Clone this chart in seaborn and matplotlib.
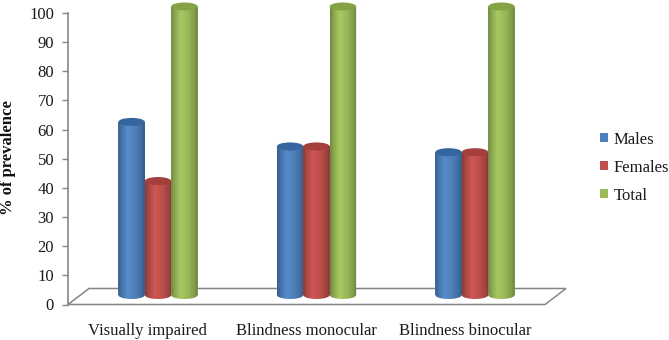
import numpy as np
import pandas as pd
import matplotlib
matplotlib.use("Agg")
import matplotlib.pyplot as plt
from matplotlib.colors import LinearSegmentedColormap, to_rgb
from matplotlib.patches import Ellipse, Polygon, PathPatch
from matplotlib.path import Path
import seaborn as sns

categories = ["Visually impaired", "Blindness monocular", "Blindness binocular"]
males = [60, 51.5, 49.5]
females = [39.5, 51.5, 49.5]
total = [100, 100, 100]
series_names = ["Males", "Females", "Total"]
colors = ["#4F81BD", "#C0504D", "#9BBB59"]
top_colors = ["#35659F", "#A33F3C", "#83A344"]
y_ticks = list(range(0, 101, 10))

W, H = 669, 340
sns.set_theme(style="white")
plt.rcParams["font.family"] = ["Liberation Serif", "DejaVu Serif"]
fig = plt.figure(figsize=(W / 100, H / 100), dpi=100, facecolor="white")

def box(x0, y_top, x1, y_bottom):
    return [x0 / W, 1 - y_bottom / H, (x1 - x0) / W, (y_bottom - y_top) / H]

# frame axes: value axis, floor, category labels
frame = fig.add_axes(box(68, 13, 545, 304.5))
frame.set_xlim(-0.5, 2.5)
frame.set_ylim(0, 100)
frame.set_xticks(range(3), categories)
frame.set_yticks(y_ticks)
frame.tick_params(axis="y", length=4, width=1, color="#868686", pad=6, labelsize=12, labelcolor="#1a1a1a", left=True)
frame.tick_params(axis="x", length=0, pad=13, labelsize=12, labelcolor="#1a1a1a")
for s in ["top", "right", "bottom"]:
    frame.spines[s].set_visible(False)
frame.spines["left"].set_color("#868686")
frame.spines["left"].set_linewidth(1.2)
frame.set_ylabel("% of prevalence", fontsize=12, fontweight="bold", color="#111111")
frame.yaxis.set_label_coords(-0.108, 0.505)
dx, dy = 21 / 477, 16 / 291.5
frame.add_patch(Polygon([(0, 0), (1, 0), (1 + dx, dy), (dx, dy)], closed=True, transform=frame.transAxes,
                        fill=False, edgecolor="#868686", lw=1.1, clip_on=False, zorder=1))

# bars axes
ax = fig.add_axes(box(68, 6.5, 568, 295))
ax.patch.set_alpha(0)
df = pd.DataFrame({
    "category": categories * 3,
    "series": np.repeat(series_names, 3),
    "value": males + females + total,
})
sns.barplot(data=df, x="category", y="value", hue="series", order=categories, hue_order=series_names,
            palette=colors, width=0.5, gap=0, saturation=1, ax=ax, legend=True, linewidth=0)
unit = 158.5
c0 = 158
ax.set_xlim((68 - c0) / unit, (568 - c0) / unit)
ax.set_ylim(0, 100)
ax.set_xlabel("")
ax.set_ylabel("")
ax.set_xticks([])
ax.set_yticks([])
for s in ax.spines.values():
    s.set_visible(False)

handles = ax.get_legend().legend_handles
ax.get_legend().remove()
fig.legend(handles, series_names, loc="upper left", bbox_to_anchor=(600 / W, 1 - 131.5 / H), frameon=False,
           fontsize=12, handlelength=0.48, handleheight=0.52, handletextpad=0.32, labelspacing=0.72,
           labelcolor="#1a1a1a", borderpad=0, borderaxespad=0)

ell_h = 8 / 2.885
for container, base, top in zip(ax.containers, colors, top_colors):
    rgb = np.array(to_rgb(base))
    cmap = LinearSegmentedColormap.from_list(
        "cyl",
        [(0, rgb * 0.72), (0.12, rgb * 0.88), (0.36, np.minimum(rgb * 1.08, 1)), (0.65, rgb * 0.98), (0.9, rgb * 0.82), (1, rgb * 0.66)],
    )
    for bar in container:
        x, w, h = bar.get_x(), bar.get_width(), bar.get_height()
        theta = np.linspace(np.pi, 2 * np.pi, 40)
        ex = x + w / 2 + w / 2 * np.cos(theta)
        ey = ell_h / 2 * np.sin(theta)
        verts = np.vstack([[(x, h)], np.column_stack([ex, ey]), [(x + w, h)], [(x, h)]])
        codes = [Path.MOVETO] + [Path.LINETO] * (len(verts) - 2) + [Path.CLOSEPOLY]
        clip = PathPatch(Path(verts, codes), transform=ax.transData, fc="none", ec="none")
        ax.add_patch(clip)
        im = ax.imshow(np.linspace(0, 1, 64)[None, :], cmap=cmap, extent=(x, x + w, -ell_h, h), aspect="auto", zorder=3)
        im.set_clip_path(clip)
        im.set_clip_box(fig.bbox)
        ax.add_patch(Ellipse((x + w / 2, h), w, ell_h, fc=top, ec="none", zorder=4, clip_on=False))
ax.set_xlim((68 - c0) / unit, (568 - c0) / unit)
ax.set_ylim(0, 100)

fig.savefig("out.png", dpi=100, facecolor="white")
